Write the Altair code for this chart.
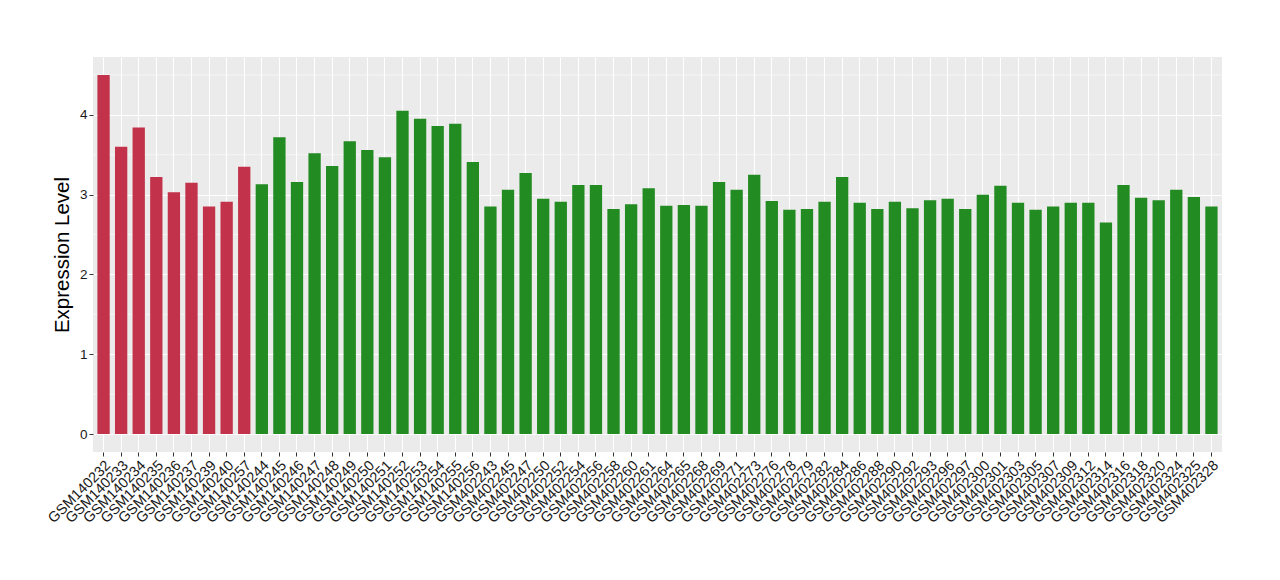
import altair as alt
import pandas as pd

red_samples = ["GSM140232", "GSM140233", "GSM140234", "GSM140235", "GSM140236",
               "GSM140237", "GSM140239", "GSM140240", "GSM140257"]
red_values = [4.50, 3.60, 3.84, 3.22, 3.03, 3.15, 2.85, 2.91, 3.35]

green_samples = ["GSM140244", "GSM140245", "GSM140246", "GSM140247", "GSM140248",
                 "GSM140249", "GSM140250", "GSM140251", "GSM140252", "GSM140253",
                 "GSM140254", "GSM140255", "GSM140256",
                 "GSM402243", "GSM402245", "GSM402247", "GSM402250", "GSM402252",
                 "GSM402254", "GSM402256", "GSM402258", "GSM402260", "GSM402261",
                 "GSM402264", "GSM402265", "GSM402268", "GSM402269", "GSM402271",
                 "GSM402273", "GSM402276", "GSM402278", "GSM402279", "GSM402282",
                 "GSM402284", "GSM402286", "GSM402288", "GSM402290", "GSM402292",
                 "GSM402293", "GSM402296", "GSM402297", "GSM402300", "GSM402301",
                 "GSM402303", "GSM402305", "GSM402307", "GSM402309", "GSM402312",
                 "GSM402314", "GSM402316", "GSM402318", "GSM402320", "GSM402324",
                 "GSM402325", "GSM402328"]
green_values = [3.13, 3.72, 3.16, 3.52, 3.36, 3.67, 3.56, 3.47, 4.05, 3.95,
                3.86, 3.89, 3.41,
                2.85, 3.06, 3.27, 2.95, 2.91, 3.12, 3.12, 2.82, 2.88, 3.08,
                2.86, 2.87, 2.86, 3.16, 3.06, 3.25, 2.92, 2.81, 2.82, 2.91,
                3.22, 2.90, 2.82, 2.91, 2.83, 2.93, 2.95, 2.82, 3.00, 3.11,
                2.90, 2.81, 2.85, 2.90, 2.90, 2.65, 3.12, 2.96, 2.93, 3.06,
                2.97, 2.85]

y_ticks = [0, 1, 2, 3, 4]
y_minor = [0.5, 1.5, 2.5, 3.5, 4.5]

samples = red_samples + green_samples
df = pd.DataFrame({
    "sample": samples,
    "value": red_values + green_values,
    "group": ["red"] * len(red_samples) + ["green"] * len(green_samples),
})
minor_df = pd.DataFrame({"y": y_minor})

yscale = alt.Scale(domain=[-0.225, 4.725], nice=False, zero=False)

bars = alt.Chart(df).mark_bar().encode(
    x=alt.X("sample:N", sort=samples, title=None,
            scale=alt.Scale(paddingInner=0.3, paddingOuter=0.25),
            axis=alt.Axis(labelAngle=-45, labelFontSize=14.5, labelColor="#1a1a1a",
                          labelFont="Liberation Sans", tickColor="#333333",
                          tickSize=4, domain=False, grid=True, gridColor="white",
                          gridWidth=1.1, labelPadding=2, labelOverlap=False)),
    y=alt.Y("value:Q", scale=yscale, title="Expression Level",
            axis=alt.Axis(values=y_ticks, format="d", labelFontSize=13.5,
                          labelColor="#1a1a1a",
                          labelFont="Liberation Sans", tickColor="#333333",
                          tickSize=4, domain=False, grid=True, gridColor="white",
                          gridWidth=1.1, labelPadding=2,
                          titleFont="Liberation Sans", titleFontSize=20.5,
                          titleFontWeight="normal", titleColor="black",
                          titleAngle=-90, titleX=-24.5, titleY=197.5,
                          titleAlign="center", titleBaseline="alphabetic")),
    y2=alt.datum(0),
    color=alt.Color("group:N",
                    scale=alt.Scale(domain=["red", "green"],
                                    range=["#C2324A", "#228B22"]),
                    legend=None),
)

minor = alt.Chart(minor_df).mark_rule(color="white", strokeWidth=0.55).encode(
    y=alt.Y("y:Q", scale=yscale)
)

chart = alt.layer(minor, bars).properties(
    width=1129, height=395,
    autosize=alt.AutoSizeParams(type="none"),
    padding={"left": 85, "top": 49, "right": 40, "bottom": 110},
).configure_view(fill="#EBEBEB", stroke=None)

chart.save("out.html", embed_options={"renderer": "svg", "actions": False})
